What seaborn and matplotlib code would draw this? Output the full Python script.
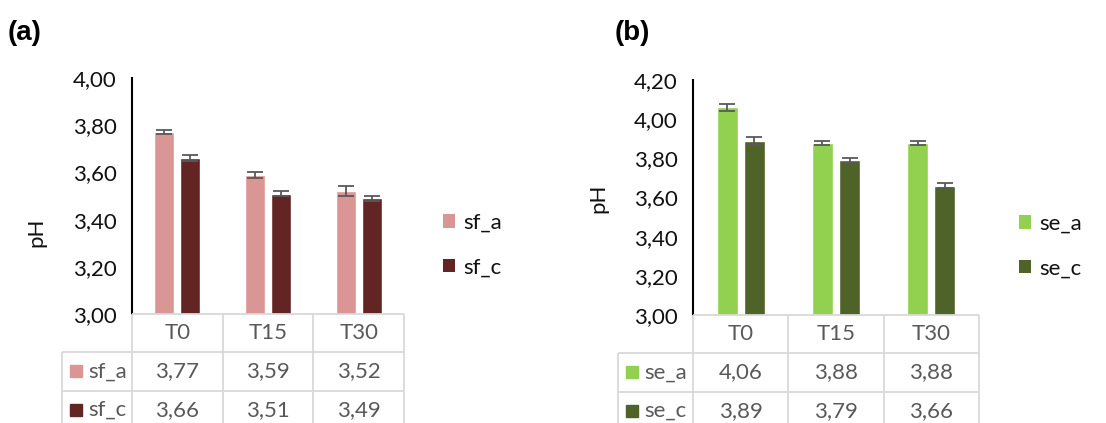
import matplotlib
matplotlib.use("Agg")
import matplotlib.pyplot as plt
from matplotlib.patches import Patch
from matplotlib.ticker import FuncFormatter, MultipleLocator
import seaborn as sns
import pandas as pd

# Sampling times
times = ["T0", "T15", "T30"]

# Panel (a)
sf_series = ["sf_a", "sf_c"]
sf_a = [3.77, 3.59, 3.52]
sf_c = [3.66, 3.51, 3.49]
sf_a_sd = [0.009, 0.012, 0.021]
sf_c_sd = [0.013, 0.012, 0.010]
sf_colors = ["#DA9694", "#632523"]

# Panel (b)
se_series = ["se_a", "se_c"]
se_a = [4.06, 3.88, 3.88]
se_c = [3.89, 3.79, 3.66]
se_a_sd = [0.020, 0.011, 0.011]
se_c_sd = [0.020, 0.012, 0.012]
se_colors = ["#92D050", "#4F6228"]

W, H = 1106, 423
TEXT = "#111111"
GREY_TXT = "#595959"
GRID = "#D9D9D9"
FS = 16

sns.set_theme(style="white")
plt.rcParams["font.family"] = ["Lato", "DejaVu Sans"]

fig = plt.figure(figsize=(W / 100, H / 100), dpi=100)


def px_axes(left, top, right, bottom):
    return fig.add_axes([left / W, 1 - bottom / H, (right - left) / W, (bottom - top) / H])


def comma(v, _pos=None):
    return f"{v:.2f}".replace(".", ",")


def panel(names, values, sds, colors, ylim, box, table_left, legend_xy,
          ylabel_pos, tag, tag_xy):
    left, top, right, bottom = box
    ax = px_axes(left, top, right, bottom)
    df = pd.DataFrame({
        "time": times * 2,
        "series": [names[0]] * len(times) + [names[1]] * len(times),
        "pH": list(values[0]) + list(values[1]),
    })
    sns.barplot(data=df, x="time", y="pH", hue="series", hue_order=names,
                order=times, palette=colors, width=0.57, gap=0.23,
                errorbar=None, saturation=1, legend=False, ax=ax)

    # standard deviations as capped error bars on each bar
    for cont, sd in zip(ax.containers, sds):
        xs = [b.get_x() + b.get_width() / 2 for b in cont]
        ys = [b.get_height() for b in cont]
        ax.errorbar(xs, ys, yerr=sd, fmt="none", ecolor="#595959",
                    elinewidth=1.3, capsize=6, capthick=1.3, zorder=5)

    ax.set_xlim(-0.5, len(times) - 0.5)
    ax.set_ylim(*ylim)
    ax.yaxis.set_major_locator(MultipleLocator(0.2))
    ax.yaxis.set_major_formatter(FuncFormatter(comma))
    ax.tick_params(axis="y", length=0, pad=11, labelsize=FS, labelcolor=TEXT)
    ax.tick_params(axis="x", length=0, labelbottom=False)
    ax.set_xlabel("")
    ax.set_ylabel("pH", fontsize=FS, color=TEXT)
    ax.yaxis.set_label_coords(*ylabel_pos)
    for s in ("top", "right", "bottom"):
        ax.spines[s].set_visible(False)
    ax.spines["left"].set_color("black")
    ax.spines["left"].set_linewidth(1.5)

    # data table under the plot
    catw = (right - left) / len(times)
    lc = (left - table_left) / catw
    row_h = 38.3
    tab = px_axes(table_left, bottom, right, bottom + 3 * row_h)
    x0 = -0.5 - lc
    x1 = len(times) - 0.5
    tab.set_xlim(x0, x1)
    tab.set_ylim(3, 0)
    tab.axis("off")
    lk = dict(color=GRID, lw=1.3, clip_on=False, solid_capstyle="butt")
    tab.plot([-0.5, x1], [0, 0], **lk)
    for r in (1, 2, 3):
        tab.plot([x0, x1], [r, r], **lk)
    for i in range(len(times) + 1):
        tab.plot([i - 0.5, i - 0.5], [0, 3], **lk)
    tab.plot([x0, x0], [1, 3], **lk)

    for i, t in enumerate(times):
        tab.text(i, 0.5, t, ha="center", va="center", fontsize=FS, color=GREY_TXT)
    for r, (name, vals, col) in enumerate(zip(names, values, colors), start=1):
        for i, v in enumerate(vals):
            tab.text(i, r + 0.5, comma(v), ha="center", va="center",
                     fontsize=FS, color=GREY_TXT)
        tab.plot([x0 + 14 / catw], [r + 0.5], marker="s", markersize=8.6,
                 color=col, clip_on=False, linestyle="none")
        tab.text(x0 + 26 / catw, r + 0.5, name, ha="left", va="center",
                 fontsize=FS, color=GREY_TXT)

    handles = [Patch(facecolor=c, edgecolor="none") for c in colors]
    fig.legend(handles, names, loc="center left",
               bbox_to_anchor=(legend_xy[0] / W, 1 - legend_xy[1] / H),
               frameon=False, fontsize=FS, handlelength=0.55, handleheight=0.55,
               handletextpad=0.35, labelspacing=1.1, borderpad=0,
               borderaxespad=0, labelcolor=TEXT)

    fig.text(tag_xy[0] / W, 1 - tag_xy[1] / H, tag, fontsize=20,
             fontweight="bold", family="Liberation Sans", color="black",
             ha="left", va="center")
    return ax


panel(sf_series, [sf_a, sf_c], [sf_a_sd, sf_c_sd], sf_colors,
      (3.0, 4.0), (132, 78, 404, 314), 62, (443, 245),
      ((46 - 132) / 272, 1 - (232 - 78) / 236), "(a)", (8, 33))

panel(se_series, [se_a, se_c], [se_a_sd, se_c_sd], se_colors,
      (3.0, 4.2), (693, 80, 979, 315), 618, (1019, 246),
      ((608 - 693) / 286, 1 - (198 - 80) / 235), "(b)", (615, 33))

fig.savefig("out.png", dpi=100)
